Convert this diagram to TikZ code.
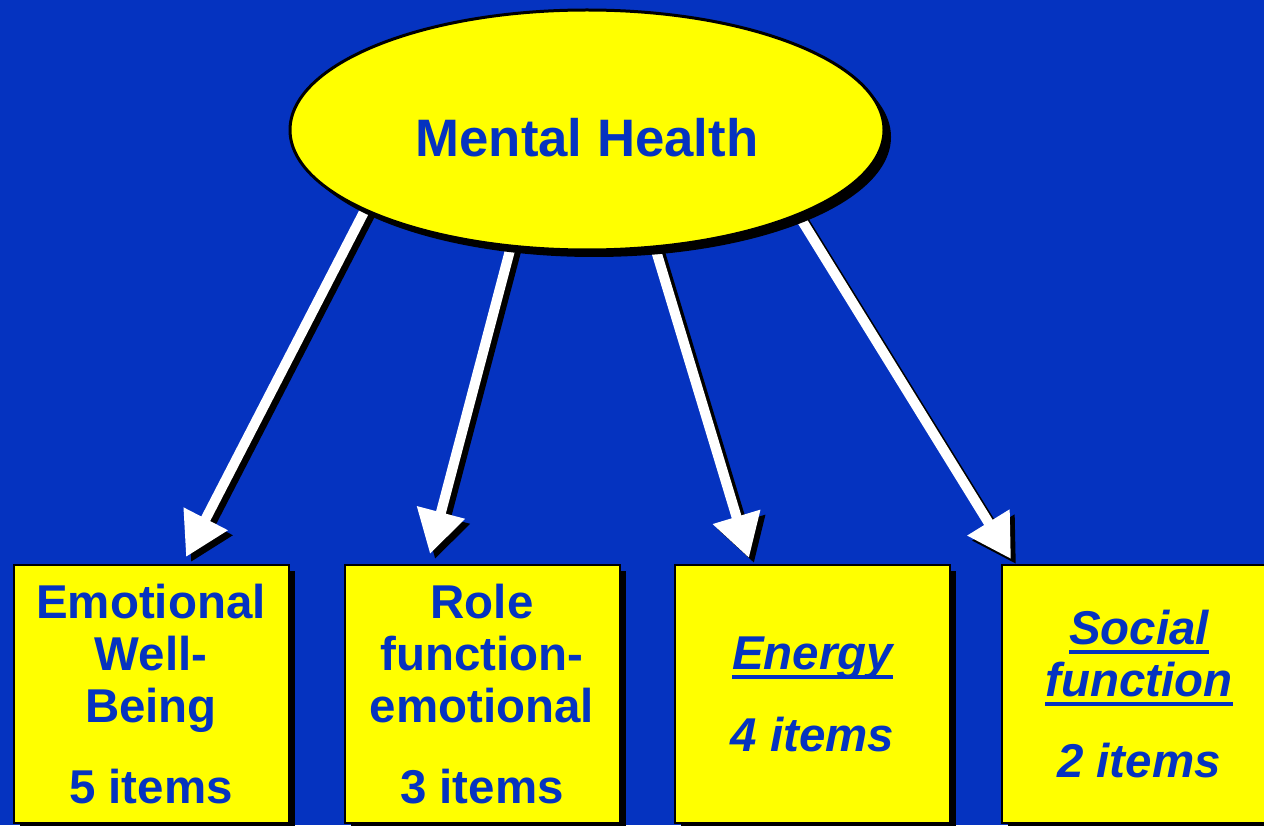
\documentclass[tikz,border=0pt]{standalone}
\usepackage{fontspec}
\setmainfont{Liberation Sans}
\usetikzlibrary{shapes.geometric,arrows.meta,shadows}
\definecolor{bgblue}{RGB}{5,51,192}
\definecolor{boxyellow}{RGB}{255,255,0}
\pgfdeclarelayer{back}
\pgfsetlayers{back,main}
\newcommand{\ulword}[1]{\setbox0\hbox{#1}\rlap{\rule[-0.19cm]{\wd0}{0.07cm}}\box0}
\begin{document}
\begin{tikzpicture}[
    topic/.style={ellipse, draw=black, line width=0.06cm, fill=boxyellow, text=bgblue,
      minimum width=11.88cm, minimum height=4.8cm, inner sep=0pt,
      font=\fontsize{30}{36}\selectfont\bfseries,
      drop shadow={shadow xshift=0.14cm, shadow yshift=-0.14cm, fill=black, opacity=1}},
    scalebox/.style={rectangle, draw=black, line width=0.04cm, fill=boxyellow, text=bgblue,
      minimum width=5.5cm, minimum height=5.16cm, inner sep=0pt, align=center,
      font=\fontsize{27}{29.6}\selectfont\bfseries,
      drop shadow={shadow xshift=0.12cm, shadow yshift=-0.12cm, fill=black, opacity=1}},
    itbox/.style={scalebox, font=\fontsize{27}{29.6}\selectfont\bfseries\itshape},
    link/.style={white, line width=0.2cm, -{Triangle[length=0.86cm,width=0.94cm]}, shorten <=-0.4cm},
    linkshadow/.style={link, black, transform canvas={xshift=0.1cm, yshift=-0.1cm}}
  ]
  \useasboundingbox (0,0) rectangle (25.28,16.5);
  % top ellipse
  \node[topic, text height=1.05cm, text depth=0pt] (mh) at (11.74,13.9) {Mental Health};
  % scales
  \node[scalebox] (ewb) at (3.02,2.62) {Emotional\\Well-\\Being\\[0.58cm]5 items};
  \node[scalebox] (rfe) at (9.64,2.62) {Role\\function-\\emotional\\[0.58cm]3 items};
  \node[itbox] (en) at (16.25,2.62) {\ulword{Energy}\\[0.6cm]4 items};
  \node[itbox] (sf) at (22.78,2.62) {\ulword{Social}\\\ulword{function}\\[0.58cm]2 items};
  % arrow ends
  \coordinate (ewbtip) at (3.72,5.36);
  \coordinate (rfetip) at (8.6,5.42);
  \coordinate (entip) at (14.98,5.34);
  \coordinate (sftip) at (20.22,5.32);
  \begin{pgfonlayer}{back}
    \fill[bgblue] (0,0) rectangle (25.28,16.5);
    \draw[linkshadow] (mh.200) -- (ewbtip);
    \draw[linkshadow] (mh.237) -- (rfetip);
    \draw[linkshadow] (mh.300) -- (entip);
    \draw[linkshadow] (mh.338) -- (sftip);
    \draw[link] (mh.200) -- (ewbtip);
    \draw[link] (mh.237) -- (rfetip);
    \draw[link] (mh.300) -- (entip);
    \draw[link] (mh.338) -- (sftip);
  \end{pgfonlayer}
\end{tikzpicture}
\end{document}
